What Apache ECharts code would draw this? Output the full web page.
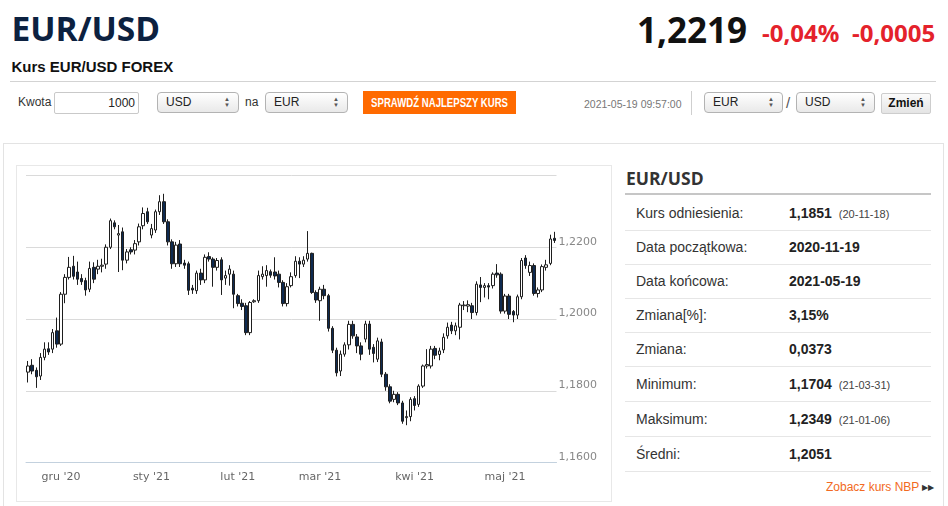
<!DOCTYPE html>
<html><head><meta charset="utf-8">
<script src="https://cdn.jsdelivr.net/npm/echarts@6/dist/echarts.min.js"></script>
<style>
html,body{margin:0;padding:0;width:948px;height:506px;overflow:hidden;background:#fff;font-family:"Liberation Sans",Arial,sans-serif;}
.a{position:absolute;white-space:nowrap;}
.sel{position:absolute;height:19px;border:1px solid #b3b3b3;border-radius:4px;background:linear-gradient(#ffffff,#e9e9e9);font-size:12px;line-height:19px;color:#222;box-sizing:content-box;}
.sel span.t{position:absolute;left:8px;top:0;}
.sel span.ar{position:absolute;right:8px;top:3px;font-size:6px;line-height:6px;color:#555;text-align:center;}
.row{position:absolute;left:625px;width:306px;border-bottom:1px solid #e6e6e6;font-size:14px;color:#333;}
.row .l{position:absolute;left:11px;top:0;}
.row .v{position:absolute;left:164px;top:0;font-weight:bold;color:#222;}
.row .v small{font-weight:normal;font-size:11px;color:#444;margin-left:7px;}
</style>
</head><body>
<div class="a" style="left:11.5px;top:12px;font:700 33.5px/33.5px 'Open Sans';color:#0c2140;">EUR/USD</div>
<div class="a" style="left:0;top:0;width:948px;height:124px;background:#efefef;z-index:-1;"></div>
<div class="a" style="left:637px;top:11.5px;font:700 35px/35px 'Open Sans';color:#111;">1,2219</div>
<div class="a" style="left:762px;top:20.5px;font:700 24px/24px 'Open Sans';color:#e4222b;">-0,04%</div>
<div class="a" style="left:852px;top:20.5px;font:700 24px/24px 'Open Sans';color:#e4222b;">-0,0005</div>
<div class="a" style="left:11.5px;top:59px;font:700 15px/15px 'Liberation Sans';color:#111;">Kurs EUR/USD FOREX</div>
<div class="a" style="left:10px;top:81px;width:926px;height:1px;background:#d3d3d3;"></div>

<div class="a" style="left:18px;top:92px;font-size:12px;line-height:21px;color:#333;">Kwota</div>
<div class="a" style="left:54px;top:92px;width:83px;height:20px;border:1px solid #c9c9c9;border-radius:2px;background:#fff;font-size:12px;line-height:20px;text-align:right;color:#222;"><span style="margin-right:3px">1000</span></div>
<div class="sel" style="left:157px;top:92px;width:80px;"><span class="t">USD</span><span class="ar">▲<br>▼</span></div>
<div class="a" style="left:245px;top:92px;font-size:12px;line-height:21px;color:#333;">na</div>
<div class="sel" style="left:265px;top:92px;width:81px;"><span class="t">EUR</span><span class="ar">▲<br>▼</span></div>
<div class="a" style="left:363px;top:91px;width:153px;height:23px;background:#ff6a00;color:#fff;font-weight:bold;font-size:12px;display:flex;justify-content:center;align-items:center;overflow:visible;"><span style="display:inline-block;transform:scaleX(0.8);white-space:nowrap;">SPRAWDŹ NAJLEPSZY KURS</span></div>
<div class="a" style="left:584px;top:92px;font-size:10.5px;line-height:24px;color:#777;">2021-05-19 09:57:00</div>
<div class="a" style="left:691px;top:91px;width:1px;height:24px;background:#cfcfcf;"></div>
<div class="sel" style="left:704px;top:92px;width:77px;"><span class="t">EUR</span><span class="ar">▲<br>▼</span></div>
<div class="a" style="left:786px;top:92px;font-size:15px;line-height:22px;color:#555;">/</div>
<div class="sel" style="left:796px;top:92px;width:77px;"><span class="t">USD</span><span class="ar">▲<br>▼</span></div>
<div class="a" style="left:881px;top:93px;width:48px;height:19px;border:1px solid #cdcdcd;border-radius:2px;background:linear-gradient(#fbfbfb,#e4e4e4);font-weight:bold;font-size:12px;line-height:19px;text-align:center;color:#111;">Zmień</div>

<div class="a" style="left:3px;top:143px;width:939px;height:380px;border:1px solid #e3e3e3;"></div>
<div class="a" style="left:16px;top:165px;width:594px;height:335px;border:1px solid #e8e8e8;"></div>

<div class="a" style="left:626px;top:169.5px;font:700 17.5px/17.5px 'Open Sans';color:#333;">EUR/USD</div>
<div class="a" style="left:625px;top:192.5px;width:306px;height:2px;background:#c6c6c6;"></div>
<div id="tbl"></div>
<div class="a" style="left:826px;top:480px;font-size:12px;line-height:15px;color:#f26a22;">Zobacz kurs NBP <span style="font-size:8px;color:#333;vertical-align:1px;">▶▶</span></div>

<div id="chart" style="position:absolute;left:0;top:0;width:948px;height:506px;z-index:5;"></div>
<script>
// ---- data ----
const closedDays = ['2020-12-25'];
const monthNames = ['sty','lut','mar','kwi','maj','cze','lip','sie','wrz','paź','lis','gru'];
const yTicks = [1.16, 1.18, 1.20, 1.22, 1.24];
const openP = [1.1852,1.1871,1.1857,1.1841,1.1893,1.1917,1.1916,1.1967,1.1930,1.2069,
 1.2116,1.2147,1.2131,1.2113,1.2107,1.2083,1.2144,1.2139,1.2147,1.2153,
 1.2200,1.2268,1.2234,1.2243,1.2164,1.2193,1.2192,1.2215,1.2260,1.2299,
 1.2234,1.2248,1.2299,1.2327,1.2271,1.2215,1.2154,1.2209,1.2156,1.2154,
 1.2086,1.2079,1.2128,1.2109,1.2174,1.2167,1.2144,1.2165,1.2114,1.2125,
 1.2125,1.2065,1.2044,1.2037,1.1962,1.2048,1.2051,1.2118,1.2121,1.2132,
 1.2131,1.2125,1.2102,1.2043,1.2093,1.2121,1.2161,1.2153,1.2167,1.2183,
 1.2074,1.2051,1.2083,1.2065,1.1974,1.1913,1.1855,1.1902,1.1928,1.1985,
 1.1950,1.1925,1.1944,1.1986,1.1921,1.1888,1.1936,1.1846,1.1811,1.1776,
 1.1790,1.1766,1.1725,1.1728,1.1778,1.1762,1.1813,1.1869,1.1869,1.1918,
 1.1901,1.1914,1.1953,1.1983,1.1967,1.1977,1.2037,1.2036,1.2037,1.2018,
 1.2095,1.2088,1.2093,1.2093,1.2128,1.2125,1.2022,1.2064,1.2021,1.2011,
 1.2062,1.2170,1.2130,1.2149,1.2071,1.2081,1.2144,1.2155,1.2225];
const closeP = [1.1869,1.1855,1.1839,1.1893,1.1916,1.1908,1.1962,1.1930,1.2069,1.2116,
 1.2144,1.2119,1.2111,1.2104,1.2081,1.2141,1.2111,1.2147,1.2150,1.2200,
 1.2274,1.2257,1.2238,1.2164,1.2187,1.2187,1.2210,1.2257,1.2294,1.2271,
 1.2252,1.2299,1.2327,1.2271,1.2215,1.2154,1.2206,1.2154,1.2150,1.2080,
 1.2081,1.2128,1.2109,1.2172,1.2167,1.2144,1.2163,1.2109,1.2121,1.2139,
 1.2069,1.2043,1.2035,1.1962,1.2046,1.2051,1.2121,1.2125,1.2135,1.2122,
 1.2120,1.2102,1.2043,1.2090,1.2118,1.2161,1.2153,1.2164,1.2183,1.2074,
 1.2053,1.2083,1.2065,1.1974,1.1913,1.1850,1.1902,1.1928,1.1985,1.1953,
 1.1925,1.1902,1.1986,1.1916,1.1904,1.1939,1.1846,1.1811,1.1771,1.1790,
 1.1766,1.1715,1.1728,1.1776,1.1759,1.1813,1.1869,1.1873,1.1916,1.1899,
 1.1911,1.1949,1.1977,1.1967,1.1981,1.2039,1.2039,1.2040,1.2018,1.2097,
 1.2088,1.2093,1.2089,1.2125,1.2123,1.2022,1.2064,1.2013,1.2011,1.2062,
 1.2163,1.2149,1.2149,1.2071,1.2081,1.2146,1.2151,1.2223,1.2219];
const lowP = [1.1823,1.1846,1.1808,1.1830,1.1885,1.1900,1.1905,1.1920,1.1925,1.2044,
 1.2110,1.2110,1.2095,1.2095,1.2065,1.2075,1.2100,1.2125,1.2130,1.2140,
 1.2195,1.2250,1.2131,1.2136,1.2155,1.2180,1.2180,1.2205,1.2250,1.2265,
 1.2225,1.2240,1.2290,1.2265,1.2205,1.2140,1.2145,1.2145,1.2140,1.2067,
 1.2070,1.2070,1.2095,1.2100,1.2160,1.2090,1.2135,1.2067,1.2095,1.2093,
 1.2030,1.2035,1.2025,1.1955,1.1955,1.2045,1.2045,1.2110,1.2090,1.2115,
 1.2110,1.2088,1.2035,1.2035,1.2088,1.2115,1.2114,1.2145,1.2160,1.2070,
 1.2045,1.1995,1.2055,1.1965,1.1905,1.1840,1.1841,1.1895,1.1915,1.1945,
 1.1905,1.1885,1.1935,1.1900,1.1879,1.1880,1.1838,1.1800,1.1765,1.1768,
 1.1760,1.1708,1.1704,1.1715,1.1745,1.1755,1.1808,1.1862,1.1862,1.1888,
 1.1885,1.1905,1.1945,1.1958,1.1955,1.1943,1.2025,1.2019,1.2000,1.2010,
 1.2047,1.2060,1.2055,1.2085,1.2115,1.2015,1.2015,1.2000,1.1991,1.2000,
 1.2055,1.2140,1.2120,1.2065,1.2060,1.2075,1.2135,1.2150,1.2212];
const highP = [1.1883,1.1888,1.1865,1.1905,1.1935,1.1935,1.1972,1.2004,1.2075,1.2125,
 1.2173,1.2176,1.2160,1.2125,1.2115,1.2160,1.2158,1.2165,1.2168,1.2208,
 1.2280,1.2275,1.2262,1.2255,1.2195,1.2200,1.2220,1.2266,1.2311,1.2310,
 1.2265,1.2305,1.2345,1.2349,1.2278,1.2222,1.2215,1.2220,1.2165,1.2160,
 1.2095,1.2135,1.2140,1.2180,1.2186,1.2172,1.2170,1.2172,1.2135,1.2150,
 1.2135,1.2070,1.2055,1.2045,1.2050,1.2055,1.2135,1.2147,1.2150,1.2138,
 1.2172,1.2135,1.2108,1.2100,1.2130,1.2175,1.2172,1.2175,1.2245,1.2185,
 1.2080,1.2090,1.2095,1.2070,1.1980,1.1920,1.1912,1.1935,1.1995,1.1995,
 1.1958,1.1935,1.1995,1.1995,1.1930,1.1948,1.1945,1.1852,1.1818,1.1800,
 1.1796,1.1772,1.1745,1.1782,1.1785,1.1818,1.1873,1.1916,1.1925,1.1925,
 1.1920,1.1960,1.1990,1.1992,1.1990,1.2045,1.2050,1.2052,1.2045,1.2105,
 1.2117,1.2100,1.2100,1.2130,1.2153,1.2130,1.2070,1.2070,1.2025,1.2068,
 1.2170,1.2178,1.2160,1.2155,1.2088,1.2152,1.2165,1.2235,1.2243];
const tableLabels = ['Kurs odniesienia:','Data początkowa:','Data końcowa:','Zmiana[%]:','Zmiana:','Minimum:','Maksimum:','Średni:'];
const tableValues = ['1,1851','2020-11-19','2021-05-19','3,15%','0,0373','1,1704','1,2349','1,2051'];
const tableNotes = ['(20-11-18)','','','','','(21-03-31)','(21-01-06)',''];

// trading days (weekdays) of the period
const dates = [];
for (let t = Date.UTC(2020,10,19); t <= Date.UTC(2021,4,19); t += 86400000) {
  const d = new Date(t), dow = d.getUTCDay(), s = d.toISOString().slice(0,10);
  if (dow !== 0 && dow !== 6 && closedDays.indexOf(s) < 0) dates.push(s);
}
const monthStart = dates.map((d,i) => i > 0 && d.slice(0,7) !== dates[i-1].slice(0,7));
const ohlc = dates.map((d,i) => [openP[i], closeP[i], lowP[i], highP[i]]);

// table
const rowH = [34,33,33,33,33,34,34,34];
let y = 196, html = '';
tableLabels.forEach((lab,i) => {
  html += '<div class="row" style="top:'+y+'px;height:'+rowH[i]+'px;line-height:'+rowH[i]+'px;"><span class="l">'+lab+'</span><span class="v">'+tableValues[i]+(tableNotes[i]?'<small>'+tableNotes[i]+'</small>':'')+'</span></div>';
  y += rowH[i] + 1;
});
document.getElementById('tbl').innerHTML = html;

const chart = echarts.init(document.getElementById('chart'));
chart.setOption({
  animation: false,
  grid: {left: 26, right: 391.5, top: 175.5, bottom: 43.5, containLabel: false, outerBoundsMode: 'none'},
  xAxis: {
    type: 'category', data: dates, boundaryGap: true,
    axisLine: {lineStyle: {color: '#c3d1de', width: 1}},
    axisTick: {interval: (i) => monthStart[i], alignWithLabel: false, length: 6, lineStyle: {color: '#c3d1de'}},
    axisLabel: {
      interval: (i) => monthStart[i], margin: 9, color: '#666', fontSize: 11, fontFamily: 'DejaVu Sans',
      formatter: (v) => monthNames[parseInt(v.slice(5,7),10)-1] + " '" + v.slice(2,4)
    },
    splitLine: {show: false}
  },
  yAxis: {
    type: 'value', position: 'right', min: yTicks[0], max: yTicks[yTicks.length-1], interval: 0.02,
    axisLine: {show: false}, axisTick: {show: false},
    splitLine: {lineStyle: {color: '#dadada', width: 1}},
    axisLabel: {
      margin: 2, color: '#888', fontSize: 11, fontFamily: 'DejaVu Sans', verticalAlign: 'bottom',
      formatter: (v) => v > 1.2399 ? '' : v.toFixed(4).replace('.', ',')
    }
  },
  series: [{
    type: 'candlestick', data: ohlc, barWidth: 3,
    itemStyle: {color: '#ffffff', color0: '#0e2a50', borderColor: '#1e1e1e', borderColor0: '#1e1e1e', borderWidth: 1}
  }]
});
</script>
</body></html>
